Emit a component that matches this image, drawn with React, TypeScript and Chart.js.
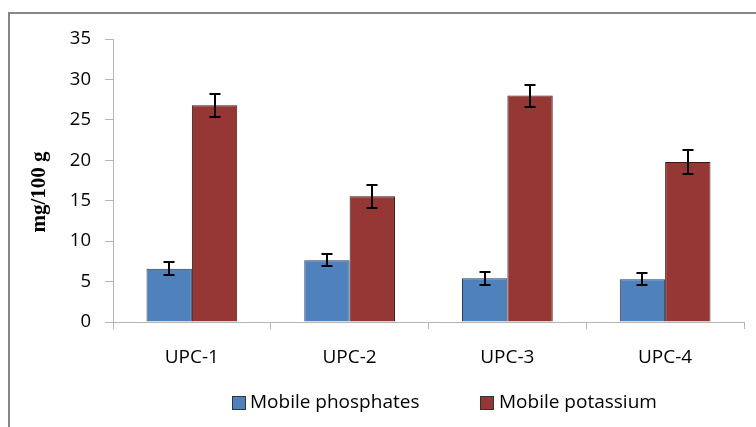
import React, { useEffect, useRef } from "react";
import { Chart, registerables } from "chart.js";

Chart.register(...registerables);

const categories = ["UPC-1", "UPC-2", "UPC-3", "UPC-4"];
const phosphates = [6.6, 7.65, 5.4, 5.3];
const phosphatesErr = [0.8, 0.75, 0.8, 0.75];
const potassium = [26.8, 15.55, 28.0, 19.8];
const potassiumErr = [1.4, 1.45, 1.35, 1.45];
const seriesLabels = ["Mobile phosphates", "Mobile potassium"];
const yTicks = [0, 5, 10, 15, 20, 25, 30, 35];
const yTitle = "mg/100 g";

const errors = [phosphatesErr, potassiumErr];
const sans = "'Open Sans', Lato, sans-serif";

const errorBarPlugin = {
  id: "errorBars",
  afterDatasetsDraw(chart: any) {
    const ctx = chart.ctx;
    const yScale = chart.scales.y;
    ctx.save();
    ctx.strokeStyle = "#000";
    ctx.lineWidth = 2;
    chart.data.datasets.forEach((ds: any, di: number) => {
      const meta = chart.getDatasetMeta(di);
      meta.data.forEach((bar: any, i: number) => {
        const v = ds.data[i];
        const e = errors[di][i];
        const x = Math.round(bar.x);
        const yt = Math.round(yScale.getPixelForValue(v + e));
        const yb = Math.round(yScale.getPixelForValue(v - e));
        ctx.beginPath();
        ctx.moveTo(x, yt);
        ctx.lineTo(x, yb);
        ctx.moveTo(x - 5.5, yt);
        ctx.lineTo(x + 5.5, yt);
        ctx.moveTo(x - 5.5, yb);
        ctx.lineTo(x + 5.5, yb);
        ctx.stroke();
      });
    });
    ctx.restore();
  },
};

const extrasPlugin = {
  id: "extras",
  afterDraw(chart: any) {
    const ctx = chart.ctx;
    ctx.save();
    ctx.translate(40, 192);
    ctx.rotate(-Math.PI / 2);
    ctx.fillStyle = "#000";
    ctx.font = "bold 21px 'Liberation Serif', 'Times New Roman', serif";
    ctx.textAlign = "center";
    ctx.textBaseline = "middle";
    ctx.fillText(yTitle, 0, 0);
    ctx.restore();

    ctx.save();
    ctx.font = "19px " + sans;
    ctx.textBaseline = "middle";
    const boxX = [232, 480];
    const textX = [250, 499];
    const cy = 403;
    chart.data.datasets.forEach((ds: any, di: number) => {
      const x = boxX[di];
      ctx.fillStyle = ds.backgroundColor;
      ctx.fillRect(x, cy - 7, 14, 14);
      ctx.strokeStyle = "#333";
      ctx.lineWidth = 1;
      ctx.strokeRect(x + 0.5, cy - 6.5, 13, 13);
      ctx.fillStyle = "#000";
      ctx.fillText(ds.label, textX[di], cy);
    });
    ctx.restore();
  },
};

export default function App() {
  const ref = useRef<HTMLCanvasElement>(null);
  useEffect(() => {
    if (!ref.current) return;
    const chart = new Chart(ref.current, {
      type: "bar",
      data: {
        labels: categories,
        datasets: [
          {
            label: seriesLabels[0],
            data: phosphates,
            backgroundColor: "#4F81BD",
            borderColor: "#2b3a4f",
            borderWidth: 1,
            categoryPercentage: 0.575,
            barPercentage: 1,
          },
          {
            label: seriesLabels[1],
            data: potassium,
            backgroundColor: "#953735",
            borderColor: "#3a1a1a",
            borderWidth: 1,
            categoryPercentage: 0.575,
            barPercentage: 1,
          },
        ],
      },
      options: {
        animation: false,
        responsive: true,
        maintainAspectRatio: false,
        layout: { padding: { top: 39, right: 12, bottom: 0, left: 0 } },
        plugins: {
          legend: { display: false },
          tooltip: { enabled: false },
        },
        scales: {
          x: {
            offset: true,
            grid: {
              offset: true,
              drawOnChartArea: false,
              drawTicks: true,
              tickLength: 7,
              color: "#b5b5b5",
            },
            border: { color: "#b5b5b5", width: 1 },
            ticks: {
              color: "#000",
              padding: 17,
              font: { family: sans, size: 19 },
            },
            afterFit(scale: any) {
              scale.height = 105;
            },
          },
          y: {
            min: 0,
            max: 35,
            afterBuildTicks(scale: any) {
              scale.ticks = yTicks.map((v) => ({ value: v }));
            },
            grid: {
              drawOnChartArea: false,
              drawTicks: true,
              tickLength: 8,
              color: "#b5b5b5",
            },
            border: { color: "#b5b5b5", width: 1 },
            ticks: {
              color: "#000",
              padding: 14,
              font: { family: sans, size: 18.5 },
            },
            afterFit(scale: any) {
              scale.width = 113;
            },
          },
        },
      },
      plugins: [errorBarPlugin, extrasPlugin],
    });
    return () => chart.destroy();
  }, []);

  return (
    <div
      style={{
        position: "fixed",
        left: 0,
        top: 0,
        width: 756,
        height: 427,
        background: "#fff",
        overflow: "hidden",
      }}
    >
      <div
        style={{
          position: "absolute",
          left: 8,
          top: 12,
          width: 800,
          height: 500,
          border: "2px solid #868686",
        }}
      />
      <canvas ref={ref} style={{ position: "absolute", left: 0, top: 0 }} />
    </div>
  );
}
